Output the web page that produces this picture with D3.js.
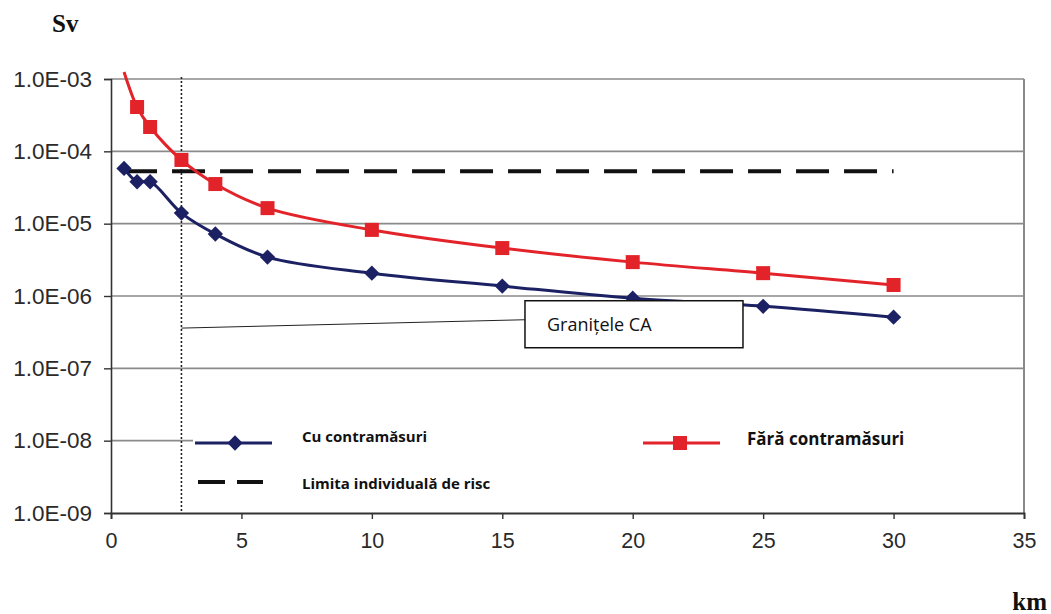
<!DOCTYPE html>
<html>
<head>
<meta charset="utf-8">
<script src="https://cdn.jsdelivr.net/npm/d3@7"></script>
<style>
  html, body { margin: 0; padding: 0; background: #fff; }
  svg { display: block; }
</style>
</head>
<body>
<svg id="chart" width="1051" height="614"></svg>
<script>
// Distance from the plant (km)
const distances = [0.5, 1, 1.5, 2.7, 4, 6, 10, 15, 20, 25, 30];
// Individual dose (Sv) with countermeasures
const withCounter = [5.8e-5, 3.8e-5, 3.8e-5, 1.4e-5, 7.2e-6, 3.45e-6, 2.07e-6, 1.37e-6, 9.3e-7, 7.2e-7, 5.1e-7];
// Individual dose (Sv) without countermeasures
const withoutCounter = [1.25e-3, 4.1e-4, 2.17e-4, 7.6e-5, 3.53e-5, 1.64e-5, 8.2e-6, 4.6e-6, 2.94e-6, 2.07e-6, 1.42e-6];
// Individual risk limit (Sv), drawn over this distance span
const riskLimit = 5.3e-5;
const riskSpan = [0.5, 30];
// Boundary of the exclusion area (km)
const boundaryKm = 2.7;

const xTicks = [0, 5, 10, 15, 20, 25, 30, 35];
const yTicks = [1e-3, 1e-4, 1e-5, 1e-6, 1e-7, 1e-8, 1e-9];
const yTickLabels = ["1.0E-03", "1.0E-04", "1.0E-05", "1.0E-06", "1.0E-07", "1.0E-08", "1.0E-09"];

const legendLabels = {
  with: "Cu contramăsuri",
  limit: "Limita individuală de risc",
  without: "Fără contramăsuri"
};
const calloutText = "Granițele CA";

const BLUE = "#1c2163";
const RED = "#e3232a";

const svg = d3.select("#chart");
const plotLeft = 111, plotRight = 1024, plotTop = 79, plotBottom = 513;

const x = d3.scaleLinear().domain([0, 35]).range([plotLeft, plotRight]);
const y = d3.scaleLog().domain([1e-9, 1e-3]).range([plotBottom, plotTop]);

// Horizontal gridlines
svg.append("g")
  .selectAll("line")
  .data(yTicks.slice(0, -1))
  .join("line")
  .attr("x1", plotLeft).attr("x2", plotRight)
  .attr("y1", d => y(d)).attr("y2", d => y(d))
  .attr("stroke", "#8a8a8a").attr("stroke-width", 1.6);

// Right frame edge
svg.append("line")
  .attr("x1", plotRight).attr("x2", plotRight)
  .attr("y1", plotTop).attr("y2", plotBottom)
  .attr("stroke", "#8a8a8a").attr("stroke-width", 2);

// Y axis
const yAxis = d3.axisLeft(y)
  .tickValues(yTicks)
  .tickFormat((d, i) => yTickLabels[i])
  .tickSize(7)
  .tickPadding(12);
const gy = svg.append("g").attr("transform", `translate(${plotLeft},0)`).call(yAxis);
gy.select(".domain").attr("stroke", "#333").attr("stroke-width", 1.6);
gy.selectAll(".tick line").attr("stroke", "#333").attr("stroke-width", 1.4);
gy.selectAll(".tick text")
  .attr("font-family", "'Liberation Sans', Arial, sans-serif")
  .attr("font-size", 22.5).attr("fill", "#2a2a2a");

// X axis
const xAxis = d3.axisBottom(x)
  .tickValues(xTicks)
  .tickFormat(d3.format("d"))
  .tickSize(6)
  .tickPadding(14);
const gx = svg.append("g").attr("transform", `translate(0,${plotBottom})`).call(xAxis);
gx.select(".domain").attr("stroke", "#333").attr("stroke-width", 1.8);
gx.selectAll(".tick line").attr("stroke", "#333").attr("stroke-width", 1.4);
gx.selectAll(".tick text")
  .attr("font-family", "'Liberation Sans', Arial, sans-serif")
  .attr("font-size", 21.5).attr("fill", "#2a2a2a");

// Axis unit labels
svg.append("text")
  .attr("x", 52).attr("y", 32)
  .attr("font-family", "'Liberation Serif', 'Times New Roman', serif")
  .attr("font-weight", "bold").attr("font-size", 25).attr("fill", "#111")
  .text("Sv");
svg.append("text")
  .attr("x", 1047).attr("y", 610).attr("text-anchor", "end")
  .attr("font-family", "'Liberation Serif', 'Times New Roman', serif")
  .attr("font-weight", "bold").attr("font-size", 25).attr("fill", "#111")
  .text("km");

// Boundary marker (dotted vertical)
svg.append("line")
  .attr("x1", x(boundaryKm)).attr("x2", x(boundaryKm))
  .attr("y1", plotTop - 2).attr("y2", plotBottom)
  .attr("stroke", "#222").attr("stroke-width", 1.6)
  .attr("stroke-dasharray", "2,2");

// Clip for markers to the plot area
svg.append("defs").append("clipPath").attr("id", "plotClip")
  .append("rect")
  .attr("x", plotLeft - 10).attr("y", plotTop)
  .attr("width", plotRight - plotLeft + 20).attr("height", plotBottom - plotTop);

const line = d3.line()
  .x(d => x(d[0]))
  .y(d => y(d[1]))
  .curve(d3.curveCatmullRom.alpha(0.5));

// Risk limit (dashed)
svg.append("line")
  .attr("x1", x(riskSpan[0])).attr("x2", x(riskSpan[1]))
  .attr("y1", y(riskLimit)).attr("y2", y(riskLimit))
  .attr("stroke", "#111").attr("stroke-width", 4)
  .attr("stroke-dasharray", "33,15");

const redPts = distances.map((d, i) => [d, withoutCounter[i]]);
const bluePts = distances.map((d, i) => [d, withCounter[i]]);

// Series without countermeasures
svg.append("path").datum(redPts)
  .attr("d", line).attr("fill", "none")
  .attr("stroke", RED).attr("stroke-width", 3);
svg.append("g").attr("clip-path", "url(#plotClip)")
  .selectAll("rect").data(redPts).join("rect")
  .attr("x", d => x(d[0]) - 7).attr("y", d => y(d[1]) - 7)
  .attr("width", 14).attr("height", 14)
  .attr("fill", RED);

// Series with countermeasures
svg.append("path").datum(bluePts)
  .attr("d", line).attr("fill", "none")
  .attr("stroke", BLUE).attr("stroke-width", 3);
const diamond = d3.symbol().type(d3.symbolDiamond2).size(150);
svg.append("g").attr("clip-path", "url(#plotClip)")
  .selectAll("path").data(bluePts).join("path")
  .attr("transform", d => `translate(${x(d[0])},${y(d[1])})`)
  .attr("d", diamond)
  .attr("fill", BLUE);

// Callout for the exclusion area boundary
const calloutAnchor = [boundaryKm, 3.6e-7];
const boxX = x(15.87), boxY = y(8.6e-7), boxW = 218, boxH = 47;
svg.append("line")
  .attr("x1", x(calloutAnchor[0])).attr("y1", y(calloutAnchor[1]))
  .attr("x2", boxX).attr("y2", boxY + 19)
  .attr("stroke", "#222").attr("stroke-width", 1);
svg.append("rect")
  .attr("x", boxX).attr("y", boxY)
  .attr("width", boxW).attr("height", boxH)
  .attr("fill", "#fff").attr("stroke", "#111").attr("stroke-width", 1.5);
svg.append("text")
  .attr("x", boxX + 22).attr("y", boxY + 30.5)
  .attr("font-family", "'Open Sans', sans-serif")
  .attr("font-size", 18).attr("fill", "#111")
  .text(calloutText);

// Legend
const lg = svg.append("g");
lg.append("rect")
  .attr("x", 193).attr("y", 418)
  .attr("width", plotRight - 194).attr("height", 86)
  .attr("fill", "#fff");

const legendFont = "'Open Sans', sans-serif";
// with countermeasures
lg.append("line").attr("x1", 195).attr("x2", 272).attr("y1", 443).attr("y2", 443)
  .attr("stroke", BLUE).attr("stroke-width", 3);
lg.append("path").attr("transform", "translate(235,443)").attr("d", diamond).attr("fill", BLUE);
lg.append("text").attr("x", 302).attr("y", 441.5)
  .attr("font-family", legendFont).attr("font-weight", "bold")
  .attr("font-size", 15).attr("fill", "#111")
  .text(legendLabels.with);
// risk limit
lg.append("line").attr("x1", 198).attr("x2", 263).attr("y1", 482).attr("y2", 482)
  .attr("stroke", "#111").attr("stroke-width", 4).attr("stroke-dasharray", "27,12");
lg.append("text").attr("x", 302).attr("y", 488.5)
  .attr("font-family", legendFont).attr("font-weight", "bold")
  .attr("font-size", 15).attr("fill", "#111")
  .text(legendLabels.limit);
// without countermeasures
lg.append("line").attr("x1", 643).attr("x2", 720).attr("y1", 443).attr("y2", 443)
  .attr("stroke", RED).attr("stroke-width", 3);
lg.append("rect").attr("x", 673).attr("y", 436).attr("width", 14).attr("height", 14).attr("fill", RED);
lg.append("text").attr("x", 747).attr("y", 444.5)
  .attr("font-family", legendFont).attr("font-weight", "bold")
  .attr("font-size", 17).attr("fill", "#111")
  .text(legendLabels.without);
</script>
</body>
</html>
